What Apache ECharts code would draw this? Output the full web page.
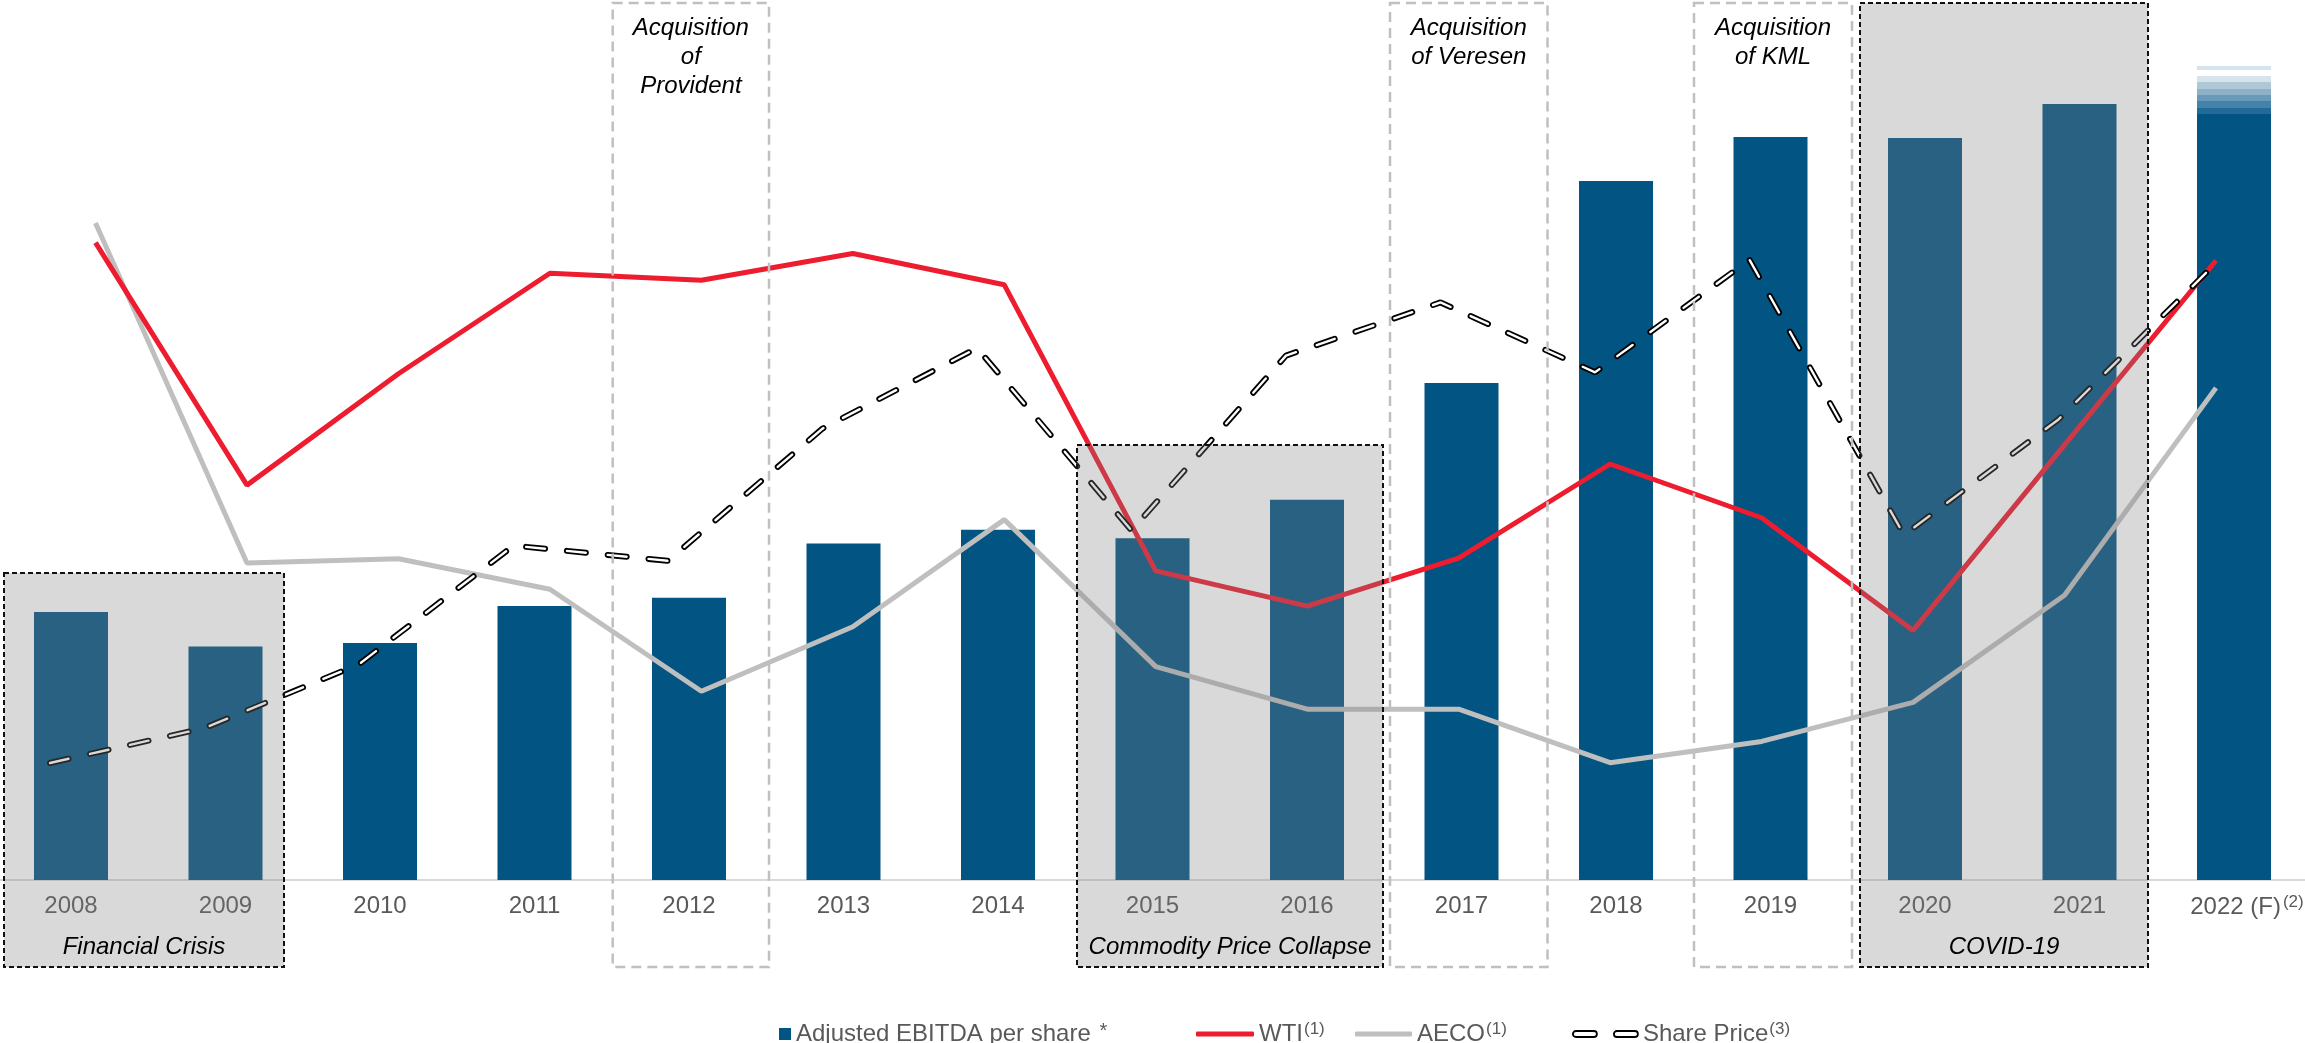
<!DOCTYPE html>
<html><head><meta charset="utf-8">
<script src="https://cdn.jsdelivr.net/npm/echarts@6/dist/echarts.min.js"></script>
<style>html,body{margin:0;padding:0;background:#fff;overflow:hidden}#c{width:2305px;height:1043px}</style>
</head><body><div id="c"></div>
<script>
// ---------------- data ----------------
const years = ['2008','2009','2010','2011','2012','2013','2014','2015','2016','2017','2018','2019','2020','2021','2022 (F)'];
const ebitdaPerShare = [2.144,1.868,1.896,2.192,2.259,2.693,2.802,2.734,3.042,3.976,5.592,5.944,5.936,6.208,6.128];
const ebitdaRange2022 = ['-','-','-','-','-','-','-','-','-','-','-','-','-','-',0.304];
const ebitdaGap2022   = ['-','-','-','-','-','-','-','-','-','-','-','-','-','-',0.048];
const ebitdaHigh2022  = ['-','-','-','-','-','-','-','-','-','-','-','-','-','-',0.032];
const wti  = [99.6,61.7,79.1,94.8,93.7,97.9,93.0,48.3,42.8,50.3,65.0,56.6,39.0,68.0,96.8];
const aeco = [7.73,3.73,3.78,3.42,2.22,2.98,4.24,2.51,2.01,2.01,1.38,1.63,2.09,3.35,5.79];
const sharePrice = [15.1,17.4,21.6,29.4,28.4,37.1,42.4,30.4,41.9,45.4,40.8,48.2,30.1,37.7,47.8];
const periods = [
  {label:'Financial Crisis', from:0, to:1},
  {label:'Commodity Price Collapse', from:7, to:8},
  {label:'COVID-19', from:12, to:13}
];
const acquisitions = [
  {label:'Acquisition\nof\nProvident', at:4},
  {label:'Acquisition\nof Veresen', at:9},
  {label:'Acquisition\nof KML', at:11}
];
// ---------------- layout tweaks (pixels) ----------------
const periodLayout = [{dl:-67,dr:58.5,top:573},{dl:-75.5,dr:76,top:445},{dl:-65,dr:68.5,top:3}];
const acqLayout = [{dl:-76.3,dr:80},{dl:-71.5,dr:86},{dl:-76.5,dr:81.5}];
const FONT = '"Liberation Sans", Arial, Helvetica, sans-serif';
const TXT = '#595959';
const BLUE = '#025482';

const chart = echarts.init(document.getElementById('c'), null, {renderer:'canvas'});
const supRich = {
  t:{fontSize:24, color:TXT, fontFamily:FONT, lineHeight:26},
  s:{fontSize:17, color:TXT, fontFamily:FONT, verticalAlign:'top', lineHeight:17, padding:[0,0,0,1]},
  a:{fontSize:20, color:TXT, fontFamily:FONT, verticalAlign:'top', lineHeight:20, padding:[0,0,0,2]}
};
function legend(name, left, icon, w, h, text, extra){
  return {
    left:left, top:1021, padding:0, itemWidth:w, itemHeight:h, selectedMode:false,
    data:[Object.assign({name:name, icon:icon}, extra||{})],
    formatter:()=>text,
    textStyle:{fontSize:24, color:TXT, fontFamily:FONT, rich:supRich}
  };
}
const capsules = 'path://M3,0 L21,0 A3,3 0 0 1 21,6 L3,6 A3,3 0 0 1 3,0 Z M44,0 L62,0 A3,3 0 0 1 62,6 L44,6 A3,3 0 0 1 44,0 Z';

const option = {
  animation:false,
  backgroundColor:'#fff',
  textStyle:{fontFamily:FONT},
  grid:[
    {left:-6.25, width:2317.5, top:0, bottom:163, outerBoundsMode:'none'},
    {left:95.5, right:89, top:0, bottom:163, outerBoundsMode:'none'},
    {left:50, right:92, top:0, bottom:163, outerBoundsMode:'none'}
  ],
  xAxis:[
    {type:'category', gridIndex:0, data:years, boundaryGap:true,
     axisLine:{show:true, lineStyle:{color:'#d9d9d9', width:2}}, axisTick:{show:false},
     splitLine:{show:false},
     axisLabel:{interval:0, margin:14, fontSize:24, color:TXT, fontFamily:FONT,
       formatter:v=> v==='2022 (F)' ? '{n|2022 (F)}{s|(2)}' : v,
       rich:{n:{fontSize:24,color:TXT,fontFamily:FONT,lineHeight:26,padding:[0,0,0,26]},
             s:{fontSize:17,color:TXT,fontFamily:FONT,verticalAlign:'top',lineHeight:17,padding:[0,0,0,2]}}}},
    {type:'category', gridIndex:1, data:years, boundaryGap:false, show:false},
    {type:'category', gridIndex:2, data:years, boundaryGap:false, show:false}
  ],
  yAxis:[
    {type:'value', gridIndex:0, min:0, max:7.04, show:false, splitLine:{show:false}},
    {type:'value', gridIndex:1, min:0, max:137.5, show:false, splitLine:{show:false}},
    {type:'value', gridIndex:1, min:0, max:880/85, show:false, splitLine:{show:false}},
    {type:'value', gridIndex:2, min:(992.5-880)/15.2, max:992.5/15.2, show:false, splitLine:{show:false}}
  ],
  legend:[
    legend('Adjusted EBITDA per share', 779, 'rect', 12, 12, '{t|Adjusted EBITDA per share }{a|*}'),
    legend('WTI', 1196, 'roundRect', 58, 5, '{t|WTI}{s|(1)}'),
    legend('AECO', 1355, 'roundRect', 57, 5, '{t|AECO}{s|(1)}'),
    legend('Share Price', 1572, capsules, 65, 6, '{t|Share Price}{s|(3)}',
      {itemStyle:{color:'#fff', borderColor:'#000', borderWidth:1.8}})
  ],
  series:[
    {name:'Adjusted EBITDA per share', type:'bar', xAxisIndex:0, yAxisIndex:0, stack:'e', barWidth:74,
     data:ebitdaPerShare, itemStyle:{color:BLUE}, z:2},
    {name:'range2022', type:'bar', xAxisIndex:0, yAxisIndex:0, stack:'e', barWidth:74, data:ebitdaRange2022, z:2,
     itemStyle:{color:new echarts.graphic.LinearGradient(0,0,0,1,[
       {offset:0,color:'#d7e4ed'},{offset:1/6,color:'#d7e4ed'},
       {offset:1/6,color:'#afc8d8'},{offset:2/6,color:'#afc8d8'},
       {offset:2/6,color:'#8db2c8'},{offset:3/6,color:'#8db2c8'},
       {offset:3/6,color:'#6a9aba'},{offset:4/6,color:'#6a9aba'},
       {offset:4/6,color:'#4683aa'},{offset:5/6,color:'#4683aa'},
       {offset:5/6,color:'#226b98'},{offset:1,color:'#226b98'}])}},
    {name:'gap2022', type:'bar', xAxisIndex:0, yAxisIndex:0, stack:'e', barWidth:74, data:ebitdaGap2022, z:2,
     itemStyle:{color:'rgba(0,0,0,0)'}},
    {name:'high2022', type:'bar', xAxisIndex:0, yAxisIndex:0, stack:'e', barWidth:74, data:ebitdaHigh2022, z:2,
     itemStyle:{color:'#d7e4ed'}},
    {name:'AECO', type:'line', xAxisIndex:1, yAxisIndex:2, data:aeco, showSymbol:false, z:3,
     color:'#bfbfbf', itemStyle:{color:'#bfbfbf'}, lineStyle:{color:'#bfbfbf', width:5}},
    {name:'WTI', type:'line', xAxisIndex:1, yAxisIndex:1, data:wti, showSymbol:false, z:4,
     color:'#ed1c2e', itemStyle:{color:'#ed1c2e'}, lineStyle:{color:'#ed1c2e', width:5}},
    {name:'Share Price', type:'line', xAxisIndex:2, yAxisIndex:3, data:sharePrice, showSymbol:false, z:5,
     color:'#000', itemStyle:{color:'#000'}, lineStyle:{color:'#000', width:6, type:[19,22], cap:'round', dashOffset:0}},
    {name:'sharePriceInner', type:'line', xAxisIndex:2, yAxisIndex:3, data:sharePrice, showSymbol:false, z:6,
     lineStyle:{color:'#fff', width:2.4, type:[19,22], cap:'round', dashOffset:0}},
    {name:'periods', type:'custom', xAxisIndex:0, yAxisIndex:0, z:10, clip:false,
     data:periods.map((p,i)=>[p.from, i]),
     renderItem:(params, api)=>{
       const i = api.value(1); const p = periods[i]; const L = periodLayout[i];
       const a = api.coord([p.from, 0]); const b = api.coord([p.to, 0]);
       const x0 = a[0] + L.dl, x1 = b[0] + L.dr, base = a[1], bottom = base + 87;
       return {type:'group', children:[
         {type:'rect', shape:{x:x0, y:L.top, width:x1-x0, height:bottom-L.top},
          style:{fill:'rgba(129,129,129,0.3)', stroke:'#111', lineWidth:2, lineDash:[5,3]}},
         {type:'text', style:{text:p.label, x:(x0+x1)/2, y:base+67, align:'center', verticalAlign:'middle',
          fontSize:24, fontStyle:'italic', fontFamily:FONT, fill:'#000'}}
       ]};
     }},
    {name:'acquisitions', type:'custom', xAxisIndex:0, yAxisIndex:0, z:11, clip:false,
     data:acquisitions.map((p,i)=>[p.at, i]),
     renderItem:(params, api)=>{
       const i = api.value(1); const p = acquisitions[i]; const L = acqLayout[i];
       const a = api.coord([p.at, 0]);
       const x0 = a[0] + L.dl, x1 = a[0] + L.dr, base = a[1], bottom = base + 87;
       return {type:'group', children:[
         {type:'rect', shape:{x:x0, y:3, width:x1-x0, height:bottom-3},
          style:{fill:'none', stroke:'#c0c0c0', lineWidth:2.5, lineDash:[10,6]}},
         {type:'text', style:{text:p.label, x:(x0+x1)/2, y:14, align:'center', verticalAlign:'top',
          fontSize:24, fontStyle:'italic', fontFamily:FONT, fill:'#000', lineHeight:29}}
       ]};
     }}
  ]
};
chart.setOption(option);
</script></body></html>
